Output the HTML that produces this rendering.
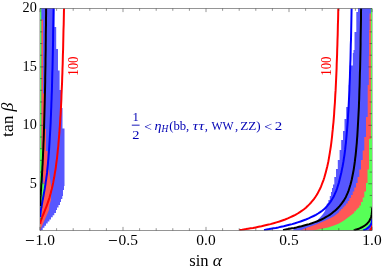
<!DOCTYPE html>
<html><head><meta charset="utf-8"><title>plot</title>
<style>
html,body{margin:0;padding:0;background:#fff;}
body{width:382px;height:270px;position:relative;overflow:hidden;font-family:"Liberation Serif",serif;color:#000;}
</style></head><body>
<svg width="382" height="270" viewBox="0 0 382 270" style="position:absolute;left:0;top:0;will-change:transform;transform:translateZ(0)">
<defs><clipPath id="c"><rect x="40" y="8.3" width="332" height="222.2"/></clipPath></defs>
<path d="M40.00 8.50V230.50 M372.00 8.50V230.50" fill="none" stroke="#222" stroke-width="0.55"/>
<g clip-path="url(#c)">
<polygon fill="#5757ff" points="41.0,8.0 54.5,8.0 54.5,27.0 56.2,27.0 56.2,49.0 58.0,49.0 58.0,70.5 59.6,70.5 59.6,90.0 61.2,90.0 61.2,108.0 62.5,108.0 62.5,128.5 64.5,128.5 64.5,186.0 64.0,186.0 64.0,190.0 63.0,190.0 63.0,196.0 62.3,196.0 62.3,199.0 61.0,199.0 61.0,202.0 60.0,202.0 60.0,205.0 58.5,205.0 58.5,207.5 57.0,207.5 57.0,210.0 56.0,210.0 56.0,211.0 56.0,213.1 54.3,213.1 54.3,215.2 52.7,215.2 52.7,217.3 51.0,217.3 51.0,219.4 49.4,219.4 49.4,221.5 47.7,221.5 47.7,223.6 46.0,223.6 46.0,225.7 44.4,225.7 44.4,227.8 42.7,227.8 42.7,229.9 41.1,229.9 41.1,232.0 41.0,230.5 40.0,230.5 40.0,8.0"/>
<polygon fill="#ff5757" points="41.3,19.5 43.0,19.5 43.0,93.5 44.6,93.5 44.2,108.0 43.6,134.0 42.5,160.0 41.5,183.0 41.3,183.0"/>
<polygon fill="#ff5757" points="44.5,129.0 46.0,129.0 46.0,151.0 47.5,151.0 48.0,161.0 48.0,170.0 49.0,170.0 51.0,186.0 51.0,200.0 49.5,205.0 49.0,210.0 40.0,230.5 40.5,213.0 41.3,213.0 45.0,187.0 43.5,187.0 42.5,160.0 43.6,134.0"/>
<polygon fill="#57ff57" points="40.0,8.0 41.3,8.0 41.3,148.0 42.0,148.0 42.0,183.0 41.0,187.0 40.0,200.0"/>
<polygon fill="#57ff57" points="42.0,183.0 43.5,183.0 45.0,187.0 41.3,213.0 40.0,229.0 40.0,213.0 40.5,187.0"/>
<polygon fill="#5757ff" points="372.0,8.0 358.0,8.0 358.0,12.0 356.3,12.0 356.3,32.0 354.5,32.0 354.5,50.0 353.5,50.0 353.5,53.0 352.8,53.0 352.8,65.5 349.6,65.5 349.6,85.0 348.8,85.0 348.8,107.0 346.2,107.0 346.2,119.0 344.5,119.0 344.5,131.0 343.0,131.0 343.0,140.0 341.2,140.0 341.2,150.0 339.6,150.0 339.6,160.0 337.8,160.0 337.8,169.0 336.0,169.0 336.0,177.0 334.3,177.0 334.3,184.5 333.0,184.5 333.0,188.0 332.0,188.0 332.0,192.0 331.0,192.0 331.0,196.0 329.8,196.0 329.8,200.0 328.4,200.0 328.4,203.5 327.0,203.5 326.0,207.0 325.0,211.0 323.0,214.0 320.0,217.5 317.5,220.0 314.3,222.4 311.8,223.3 309.3,224.1 306.7,224.8 304.1,225.5 301.5,226.2 299.0,226.8 296.5,227.4 294.1,227.9 293.0,230.5 372.0,230.5"/>
<polygon fill="#ff5757" points="372.0,13.5 369.5,13.5 369.5,30.0 369.0,30.0 369.0,56.0 368.8,56.0 368.8,85.0 367.7,85.0 367.7,117.0 366.0,117.0 366.0,137.0 364.3,137.0 364.3,150.5 362.7,150.5 362.7,160.0 361.0,160.0 361.0,169.5 359.3,169.5 359.3,177.0 357.6,177.0 357.6,183.0 356.0,183.0 356.0,187.5 354.3,187.5 354.3,191.5 352.7,191.5 352.7,195.0 351.0,195.0 351.0,198.0 349.3,198.0 349.3,201.0 347.7,201.0 347.7,203.5 346.0,203.5 346.0,205.5 344.3,205.5 344.3,207.3 342.6,207.3 342.6,209.0 341.0,209.0 341.0,210.5 339.3,210.5 339.3,211.9 334.0,216.3 326.0,220.3 316.0,224.4 306.0,228.1 300.5,230.6 372.0,230.5"/>
<polygon fill="#57ff57" points="372.0,8.0 370.9,8.0 370.9,139.0 369.0,139.0 369.0,169.5 367.5,169.5 367.5,183.0 366.0,183.0 366.0,191.5 364.3,191.5 364.3,197.5 362.7,197.5 362.7,202.0 361.0,202.0 361.0,205.5 359.3,205.5 359.3,207.8 357.6,207.8 357.6,209.6 356.0,209.6 356.0,211.2 354.3,211.2 354.3,212.8 349.0,216.8 344.0,220.6 339.0,223.4 334.0,225.5 328.0,227.4 322.0,228.7 312.0,230.7 372.0,230.5"/>
<polygon fill="#5757ff" points="363.2,230.5 363.8,230.2 364.6,229.8 365.6,229.3 366.5,228.8 367.3,228.2 368.1,227.6 368.8,227.0 369.5,226.3 370.1,225.6 370.6,224.9 371.0,224.2 371.3,223.4 371.6,222.6 371.8,221.8 372.0,221.0 372.1,220.2 372.2,219.3 372.2,218.5 372.0,230.5"/>
<polygon fill="#ff5757" points="369.4,230.5 369.8,230.2 370.4,229.6 370.9,229.0 371.4,228.3 371.7,227.6 372.0,226.8 372.1,226.0 372.2,225.2 372.0,230.5"/>
<path d="M40.2 224.1 L40.3 223.3 L40.5 222.4 L40.7 221.5 L41.0 220.5 L41.3 219.5 L41.7 218.4 L42.2 217.2 L42.6 216.0 L43.1 214.8 L43.7 213.5 L44.2 212.1 L44.8 210.7 L45.4 209.2 L46.0 207.7 L46.6 206.1 L47.2 204.4 L47.8 202.7 L48.4 200.9 L49.0 199.1 L49.6 197.2 L50.1 195.2 L50.7 193.2 L51.2 191.1 L51.8 189.0 L52.3 186.8 L52.8 184.5 L53.3 182.2 L53.7 179.8 L54.2 177.3 L54.6 174.8 L55.0 172.2 L55.5 169.6 L55.9 166.8 L56.2 164.1 L56.6 161.2 L57.0 158.3 L57.3 155.3 L57.6 152.3 L57.9 149.2 L58.3 146.0 L58.5 142.8 L58.8 139.5 L59.1 136.1 L59.4 132.7 L59.6 129.2 L59.9 125.6 L60.1 122.0 L60.3 118.2 L60.6 114.5 L60.8 110.6 L61.0 106.7 L61.2 102.7 L61.4 98.7 L61.5 94.6 L61.7 90.4 L61.9 86.1 L62.1 81.8 L62.2 77.4 L62.4 72.9 L62.5 68.4 L62.7 63.8 L62.8 59.1 L62.9 54.4 L63.1 49.5 L63.2 44.6 L63.3 39.7 L63.4 34.6 L63.5 29.5 L63.7 24.4 L63.8 19.1 L63.9 13.8 L64.0 8.4" fill="none" stroke="#ff0000" stroke-width="2.00" stroke-linejoin="round"/>
<path d="M40.2 217.2 L40.3 216.0 L40.3 214.8 L40.5 213.5 L40.6 212.1 L40.8 210.7 L41.0 209.2 L41.3 207.7 L41.6 206.1 L41.9 204.4 L42.2 202.7 L42.5 200.9 L42.9 199.1 L43.2 197.2 L43.6 195.2 L43.9 193.2 L44.3 191.1 L44.7 189.0 L45.0 186.8 L45.4 184.5 L45.7 182.2 L46.1 179.8 L46.4 177.3 L46.8 174.8 L47.1 172.2 L47.3 169.6 L47.6 166.8 L47.9 164.1 L48.1 161.2 L48.4 158.3 L48.6 155.3 L48.9 152.3 L49.1 149.2 L49.3 146.0 L49.5 142.8 L49.7 139.5 L49.9 136.1 L50.1 132.7 L50.3 129.2 L50.5 125.6 L50.7 122.0 L50.8 118.2 L51.0 114.5 L51.1 110.6 L51.3 106.7 L51.4 102.7 L51.6 98.7 L51.7 94.6 L51.9 90.4 L52.0 86.1 L52.1 81.8 L52.2 77.4 L52.3 72.9 L52.5 68.4 L52.6 63.8 L52.7 59.1 L52.8 54.4 L52.9 49.5 L53.0 44.6 L53.1 39.7 L53.1 34.6 L53.2 29.5 L53.3 24.4 L53.4 19.1 L53.5 13.8 L53.6 8.4" fill="none" stroke="#0000ff" stroke-width="2.00" stroke-linejoin="round"/>
<path d="M40.2 206.1 L40.2 204.4 L40.3 202.7 L40.4 200.9 L40.4 199.1 L40.5 197.2 L40.7 195.2 L40.8 193.2 L40.9 191.1 L41.1 189.0 L41.2 186.8 L41.3 184.5 L41.5 182.2 L41.7 179.8 L41.8 177.3 L42.0 174.8 L42.1 172.2 L42.3 169.6 L42.4 166.8 L42.6 164.1 L42.7 161.2 L42.9 158.3 L43.0 155.3 L43.1 152.3 L43.3 149.2 L43.4 146.0 L43.5 142.8 L43.7 139.5 L43.8 136.1 L43.9 132.7 L44.0 129.2 L44.1 125.6 L44.2 122.0 L44.3 118.2 L44.4 114.5 L44.5 110.6 L44.6 106.7 L44.7 102.7 L44.8 98.7 L44.9 94.6 L45.0 90.4 L45.1 86.1 L45.2 81.8 L45.2 77.4 L45.3 72.9 L45.4 68.4 L45.5 63.8 L45.5 59.1 L45.6 54.4 L45.7 49.5 L45.7 44.6 L45.8 39.7 L45.8 34.6 L45.9 29.5 L46.0 24.4 L46.0 19.1 L46.1 13.8 L46.1 8.4" fill="none" stroke="#000" stroke-width="2.00" stroke-linejoin="round"/>
<path d="M239.4 230.1 L240.6 229.9 L242.2 229.7 L243.9 229.4 L245.9 229.1 L248.1 228.7 L250.5 228.3 L253.0 227.9 L255.7 227.4 L258.6 226.8 L261.5 226.2 L264.4 225.5 L267.5 224.8 L270.5 224.1 L273.5 223.3 L276.5 222.4 L279.4 221.5 L282.3 220.5 L285.1 219.5 L287.8 218.4 L290.5 217.2 L293.0 216.0 L295.4 214.8 L297.7 213.5 L299.9 212.1 L302.0 210.7 L304.0 209.2 L305.9 207.7 L307.6 206.1 L309.3 204.4 L310.9 202.7 L312.4 200.9 L313.9 199.1 L315.2 197.2 L316.5 195.2 L317.7 193.2 L318.8 191.1 L319.9 189.0 L320.9 186.8 L321.8 184.5 L322.7 182.2 L323.6 179.8 L324.4 177.3 L325.1 174.8 L325.8 172.2 L326.5 169.6 L327.2 166.8 L327.8 164.1 L328.4 161.2 L328.9 158.3 L329.4 155.3 L329.9 152.3 L330.4 149.2 L330.9 146.0 L331.3 142.8 L331.7 139.5 L332.1 136.1 L332.4 132.7 L332.8 129.2 L333.1 125.6 L333.5 122.0 L333.8 118.2 L334.1 114.5 L334.3 110.6 L334.6 106.7 L334.9 102.7 L335.1 98.7 L335.3 94.6 L335.6 90.4 L335.8 86.1 L336.0 81.8 L336.2 77.4 L336.4 72.9 L336.6 68.4 L336.7 63.8 L336.9 59.1 L337.1 54.4 L337.2 49.5 L337.4 44.6 L337.5 39.7 L337.7 34.6 L337.8 29.5 L337.9 24.4 L338.1 19.1 L338.2 13.8 L338.3 8.4" fill="none" stroke="#ff0000" stroke-width="2.00" stroke-linejoin="round"/>
<path d="M264.0 229.9 L265.4 229.7 L267.1 229.4 L269.0 229.1 L271.1 228.7 L273.4 228.3 L275.8 227.9 L278.4 227.4 L281.0 226.8 L283.7 226.2 L286.5 225.5 L289.3 224.8 L292.2 224.1 L295.0 223.3 L297.7 222.4 L300.5 221.5 L303.2 220.5 L305.9 219.5 L308.6 218.4 L311.1 217.2 L313.6 216.0 L315.9 214.8 L318.1 213.5 L320.2 212.1 L322.2 210.7 L324.0 209.2 L325.6 207.7 L327.1 206.1 L328.5 204.4 L329.9 202.7 L331.1 200.9 L332.2 199.1 L333.3 197.2 L334.3 195.2 L335.2 193.2 L336.1 191.1 L336.9 189.0 L337.6 186.8 L338.3 184.5 L339.0 182.2 L339.6 179.8 L340.2 177.3 L340.8 174.8 L341.4 172.2 L341.9 169.6 L342.5 166.8 L343.0 164.1 L343.5 161.2 L343.9 158.3 L344.4 155.3 L344.8 152.3 L345.2 149.2 L345.5 146.0 L345.9 142.8 L346.2 139.5 L346.5 136.1 L346.8 132.7 L347.1 129.2 L347.4 125.6 L347.7 122.0 L347.9 118.2 L348.1 114.5 L348.4 110.6 L348.6 106.7 L348.8 102.7 L349.0 98.7 L349.2 94.6 L349.4 90.4 L349.5 86.1 L349.7 81.8 L349.9 77.4 L350.0 72.9 L350.2 68.4 L350.3 63.8 L350.5 59.1 L350.6 54.4 L350.7 49.5 L350.8 44.6 L351.0 39.7 L351.1 34.6 L351.2 29.5 L351.3 24.4 L351.4 19.1 L351.5 13.8 L351.6 8.4" fill="none" stroke="#0000ff" stroke-width="2.00" stroke-linejoin="round"/>
<path d="M283.0 229.9 L284.4 229.7 L286.0 229.4 L287.8 229.1 L289.7 228.7 L291.9 228.3 L294.1 227.9 L296.5 227.4 L299.0 226.8 L301.5 226.2 L304.1 225.5 L306.7 224.8 L309.3 224.1 L311.8 223.3 L314.3 222.4 L316.8 221.5 L319.2 220.5 L321.5 219.5 L323.7 218.4 L325.8 217.2 L327.8 216.0 L329.7 214.8 L331.6 213.5 L333.3 212.1 L335.0 210.7 L336.6 209.2 L338.1 207.7 L339.6 206.1 L341.0 204.4 L342.3 202.7 L343.6 200.9 L344.7 199.1 L345.8 197.2 L346.7 195.2 L347.6 193.2 L348.4 191.1 L349.1 189.0 L349.8 186.8 L350.5 184.5 L351.1 182.2 L351.7 179.8 L352.2 177.3 L352.7 174.8 L353.2 172.2 L353.7 169.6 L354.1 166.8 L354.5 164.1 L354.9 161.2 L355.2 158.3 L355.6 155.3 L355.9 152.3 L356.2 149.2 L356.5 146.0 L356.8 142.8 L357.0 139.5 L357.3 136.1 L357.5 132.7 L357.7 129.2 L357.9 125.6 L358.1 122.0 L358.3 118.2 L358.5 114.5 L358.7 110.6 L358.9 106.7 L359.0 102.7 L359.2 98.7 L359.3 94.6 L359.4 90.4 L359.6 86.1 L359.7 81.8 L359.8 77.4 L359.9 72.9 L360.1 68.4 L360.2 63.8 L360.3 59.1 L360.4 54.4 L360.5 49.5 L360.6 44.6 L360.6 39.7 L360.7 34.6 L360.8 29.5 L360.9 24.4 L361.0 19.1 L361.0 13.8 L361.1 8.4" fill="none" stroke="#000" stroke-width="2.00" stroke-linejoin="round"/>
<path d="M369.4 230.5 L369.8 230.2 L370.4 229.6 L370.9 229.0 L371.4 228.3 L371.7 227.6 L372.0 226.8 L372.1 226.0 L372.2 225.2" fill="none" stroke="#ff0000" stroke-width="2.00" stroke-linejoin="round"/>
<path d="M363.2 230.5 L363.8 230.2 L364.6 229.8 L365.6 229.3 L366.5 228.8 L367.3 228.2 L368.1 227.6 L368.8 227.0 L369.5 226.3 L370.1 225.6 L370.6 224.9 L371.0 224.2 L371.3 223.4 L371.6 222.6 L371.8 221.8 L372.0 221.0 L372.1 220.2 L372.2 219.3 L372.2 218.5" fill="none" stroke="#0000ff" stroke-width="2.00" stroke-linejoin="round"/>
<path d="M353.7 230.5 L354.6 230.2 L355.9 229.8 L357.3 229.3 L358.7 228.8 L360.0 228.2 L361.4 227.5 L362.6 226.9 L363.8 226.2 L364.8 225.5 L365.8 224.7 L366.7 224.0 L367.5 223.2 L368.2 222.4 L368.8 221.6 L369.4 220.7 L369.9 219.9 L370.3 219.0 L370.7 218.1 L371.0 217.2 L371.3 216.3 L371.5 215.3 L371.7 214.4 L371.8 213.4 L371.9 212.5 L372.0 211.5 L372.1 210.5 L372.1 209.5 L372.2 208.5 L372.2 207.4" fill="none" stroke="#000" stroke-width="2.00" stroke-linejoin="round"/>
</g>
<path d="M40.00 8.50H372.00 M40.00 230.50H372.00 M40.00 230.50v-3.6 M40.00 8.50v3.6 M56.60 230.50v-2.3 M56.60 8.50v2.3 M73.20 230.50v-2.3 M73.20 8.50v2.3 M89.80 230.50v-2.3 M89.80 8.50v2.3 M106.40 230.50v-2.3 M106.40 8.50v2.3 M123.00 230.50v-3.6 M123.00 8.50v3.6 M139.60 230.50v-2.3 M139.60 8.50v2.3 M156.20 230.50v-2.3 M156.20 8.50v2.3 M172.80 230.50v-2.3 M172.80 8.50v2.3 M189.40 230.50v-2.3 M189.40 8.50v2.3 M206.00 230.50v-3.6 M206.00 8.50v3.6 M222.60 230.50v-2.3 M222.60 8.50v2.3 M239.20 230.50v-2.3 M239.20 8.50v2.3 M255.80 230.50v-2.3 M255.80 8.50v2.3 M272.40 230.50v-2.3 M272.40 8.50v2.3 M289.00 230.50v-3.6 M289.00 8.50v3.6 M305.60 230.50v-2.3 M305.60 8.50v2.3 M322.20 230.50v-2.3 M322.20 8.50v2.3 M338.80 230.50v-2.3 M338.80 8.50v2.3 M355.40 230.50v-2.3 M355.40 8.50v2.3 M372.00 230.50v-3.6 M372.00 8.50v3.6 M40.00 218.82h2.3 M372.00 218.82h-2.3 M40.00 207.13h2.3 M372.00 207.13h-2.3 M40.00 195.45h2.3 M372.00 195.45h-2.3 M40.00 183.76h3.6 M372.00 183.76h-3.6 M40.00 172.08h2.3 M372.00 172.08h-2.3 M40.00 160.39h2.3 M372.00 160.39h-2.3 M40.00 148.71h2.3 M372.00 148.71h-2.3 M40.00 137.03h2.3 M372.00 137.03h-2.3 M40.00 125.34h3.6 M372.00 125.34h-3.6 M40.00 113.66h2.3 M372.00 113.66h-2.3 M40.00 101.97h2.3 M372.00 101.97h-2.3 M40.00 90.29h2.3 M372.00 90.29h-2.3 M40.00 78.61h2.3 M372.00 78.61h-2.3 M40.00 66.92h3.6 M372.00 66.92h-3.6 M40.00 55.24h2.3 M372.00 55.24h-2.3 M40.00 43.55h2.3 M372.00 43.55h-2.3 M40.00 31.87h2.3 M372.00 31.87h-2.3 M40.00 20.18h2.3 M372.00 20.18h-2.3 " fill="none" stroke="#2a2a2a" stroke-width="0.5"/>
<g font-family="Liberation Serif, serif" fill="#000">
<text transform="translate(78.40,75.73) rotate(-90) scale(0.883,1)" font-size="14.5" fill="#ff0000">100</text>
<text transform="translate(330.90,75.73) rotate(-90) scale(0.883,1)" font-size="14.5" fill="#ff0000">100</text>
<text transform="translate(22.59,12.30) scale(0.950,1)" font-size="15">20</text>
<text transform="translate(22.61,70.72) scale(0.950,1)" font-size="15">15</text>
<text transform="translate(22.59,129.14) scale(0.950,1)" font-size="15">10</text>
<text transform="translate(29.73,187.56) scale(0.950,1)" font-size="15">5</text>
<rect x="25.90" y="240.0" width="8" height="0.9"/>
<text transform="translate(35.60,244.80) scale(1.03,1)" font-size="15">1.0</text>
<rect x="108.90" y="240.0" width="8" height="0.9"/>
<text transform="translate(118.60,244.80) scale(1.03,1)" font-size="15">0.5</text>
<text transform="translate(196.35,244.80) scale(1.03,1)" font-size="15">0.0</text>
<text transform="translate(279.35,244.80) scale(1.03,1)" font-size="15">0.5</text>
<text transform="translate(362.35,244.80) scale(1.03,1)" font-size="15">1.0</text>
<text transform="translate(189.32,265.60) scale(1.035,1)" font-size="16">sin</text>
<text transform="translate(212.68,265.60) scale(1.099,1)" font-size="16" font-style="italic">α</text>
<text transform="translate(12.80,136.97) rotate(-90) scale(1.037,1)" font-size="17">tan</text>
<text transform="translate(12.80,111.51) rotate(-90) scale(1.044,1)" font-size="17" font-style="italic">β</text>
</g>
<g font-family="Liberation Serif, serif" fill="#0000b4">
<text transform="translate(132.38,120.50) scale(0.947,1)" font-size="13.5">1</text>
<text transform="translate(132.36,138.80) scale(1.072,1)" font-size="13.5">2</text>
<rect x="131.8" y="124.7" width="7.8" height="0.9"/>
<text transform="translate(144.33,130.60) scale(1.083,1)" font-size="12.5">&lt;</text>
<text transform="translate(154.50,130.10) scale(1.127,1)" font-size="12.5" font-style="italic">η</text>
<text transform="translate(161.60,132.40) scale(1.009,1)" font-size="9.3" font-style="italic">H</text>
<text transform="translate(169.14,130.10) scale(1.019,1)" font-size="12.5">(bb,</text>
<text transform="translate(192.67,130.10) scale(1.138,1)" font-size="13.2" font-style="italic">τ</text>
<text transform="translate(198.67,130.10) scale(1.138,1)" font-size="13.2" font-style="italic">τ</text>
<text transform="translate(204.81,130.10) scale(1.021,1)" font-size="12.5">,</text>
<text transform="translate(211.49,130.10) scale(0.902,1)" font-size="13">WW</text>
<text transform="translate(235.01,130.10) scale(1.021,1)" font-size="12.5">,</text>
<text transform="translate(240.17,130.10) scale(1.055,1)" font-size="12.5">ZZ)</text>
<text transform="translate(264.29,130.60) scale(1.135,1)" font-size="12.5">&lt;</text>
<text transform="translate(274.84,130.10) scale(1.151,1)" font-size="13">2</text>
</g>
</svg>
</body></html>
